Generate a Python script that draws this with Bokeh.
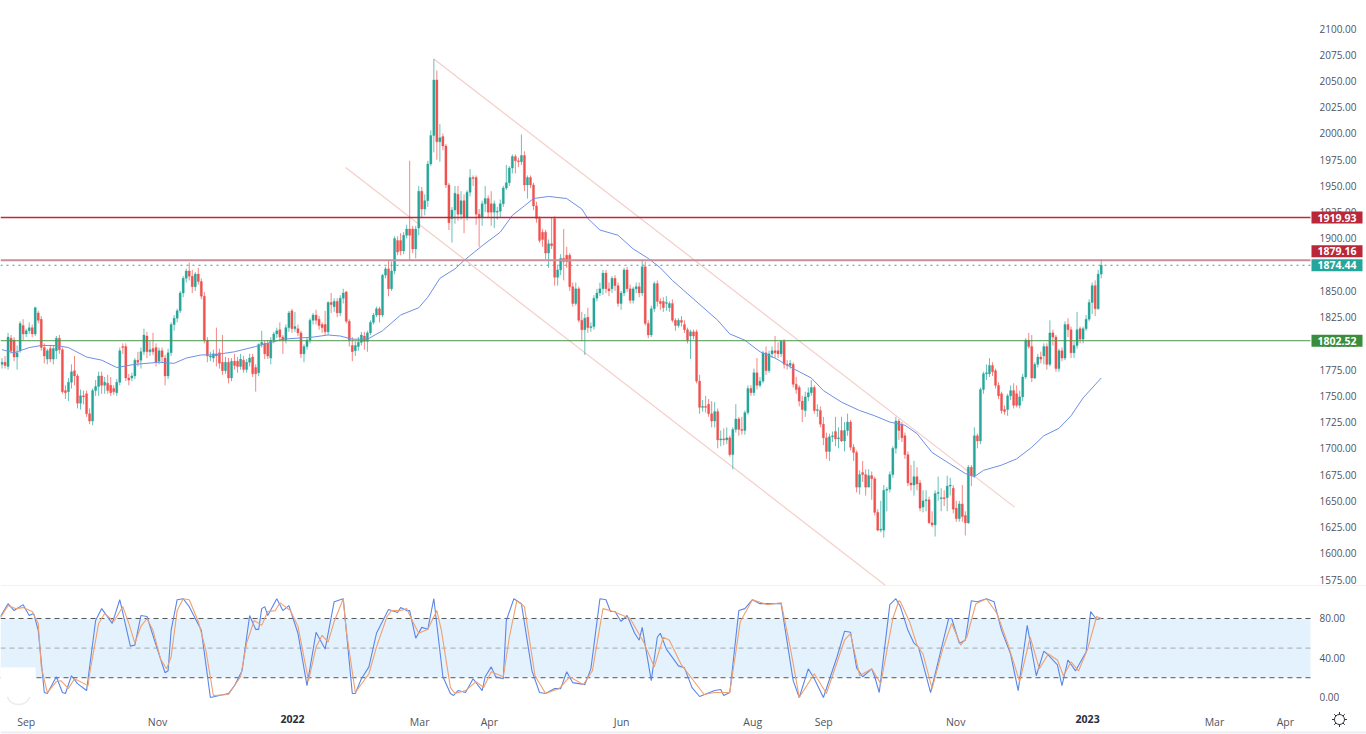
from bokeh.embed import file_html
from bokeh.layouts import column
from bokeh.models import BoxAnnotation, ColumnDataSource, FixedTicker, Label, NumeralTickFormatter, Range1d
from bokeh.plotting import figure
from bokeh.resources import INLINE

# daily candles, ten bars a row
bar_open = [
    1780,1782,1778,1805,1803,1787,1793,1817,1809,1812,
    1815,1809,1829,1823,1796,1785,1795,1785,1793,1805,
    1794,1755,1754,1763,1774,1769,1743,1750,1752,1733,
    1726,1755,1759,1769,1760,1762,1760,1757,1753,1763,
    1797,1797,1767,1767,1769,1784,1784,1792,1807,1792,
    1795,1796,1783,1793,1786,1769,1791,1818,1824,1831,
    1848,1862,1869,1864,1854,1866,1859,1845,1803,1787,
    1786,1790,1791,1782,1774,1782,1767,1783,1783,1778,
    1784,1775,1782,1787,1777,1772,1799,1800,1800,1786,
    1803,1809,1813,1806,1803,1815,1831,1814,1814,1810,
    1790,1797,1803,1822,1827,1823,1818,1818,1811,1839,
    1835,1840,1829,1843,1849,1821,1798,1793,1797,1801,
    1807,1802,1810,1820,1827,1833,1827,1865,1871,1852,
    1869,1898,1898,1888,1903,1909,1909,1890,1910,1945,
    1928,1936,1971,1998,2051,1992,1997,1988,1951,1919,
    1927,1942,1923,1936,1920,1944,1958,1958,1923,1920,
    1933,1938,1933,1925,1925,1926,1933,1948,1953,1967,
    1978,1974,1973,1979,1951,1958,1951,1931,1919,1906,
    1906,1886,1895,1919,1863,1870,1881,1884,1884,1854,
    1838,1852,1822,1813,1825,1815,1816,1843,1848,1852,
    1867,1852,1852,1862,1855,1838,1848,1870,1852,1841,
    1852,1854,1848,1873,1819,1808,1833,1857,1840,1840,
    1838,1834,1838,1822,1817,1822,1818,1813,1807,1811,
    1811,1764,1739,1740,1742,1733,1726,1735,1708,1709,
    1708,1710,1694,1718,1728,1718,1717,1734,1757,1753,
    1772,1760,1764,1791,1774,1790,1793,1793,1790,1802,
    1780,1779,1780,1761,1758,1745,1736,1749,1753,1758,
    1736,1736,1723,1710,1697,1711,1716,1709,1717,1707,
    1717,1725,1701,1696,1663,1677,1675,1663,1674,1671,
    1639,1622,1622,1660,1661,1675,1700,1726,1723,1712,
    1694,1667,1665,1673,1667,1644,1650,1651,1629,1627,
    1657,1652,1653,1653,1664,1662,1643,1633,1647,1636,
    1629,1682,1674,1712,1707,1756,1771,1771,1779,1774,
    1760,1752,1737,1737,1750,1755,1752,1741,1749,1768,
    1803,1797,1767,1780,1787,1788,1797,1780,1810,1806,
    1776,1793,1786,1818,1813,1791,1798,1814,1804,1814,
    1823,1839,1855,1833,1866,
]
bar_close = [
    1782,1779,1806,1793,1787,1791,1819,1809,1812,1815,
    1809,1834,1822,1796,1788,1793,1785,1795,1805,1794,
    1754,1753,1763,1773,1769,1743,1750,1749,1733,1726,
    1755,1759,1769,1760,1763,1755,1753,1754,1763,1793,
    1796,1767,1765,1769,1784,1782,1792,1808,1792,1794,
    1792,1782,1793,1787,1769,1791,1818,1824,1831,1848,
    1862,1869,1864,1854,1866,1859,1845,1803,1788,1788,
    1790,1788,1781,1774,1782,1767,1783,1779,1778,1785,
    1775,1782,1786,1771,1771,1799,1801,1790,1788,1803,
    1809,1812,1806,1803,1815,1829,1814,1816,1810,1790,
    1797,1803,1822,1827,1822,1817,1815,1811,1839,1837,
    1840,1829,1843,1848,1821,1803,1792,1798,1801,1808,
    1802,1810,1820,1827,1833,1827,1865,1871,1852,1869,
    1900,1887,1888,1903,1909,1903,1890,1909,1945,1928,
    1936,1971,1998,2051,1992,1996,1988,1951,1915,1927,
    1943,1923,1936,1920,1944,1958,1957,1923,1920,1933,
    1938,1925,1925,1933,1926,1933,1948,1953,1967,1978,
    1974,1973,1979,1951,1958,1951,1931,1919,1898,1899,
    1886,1895,1893,1863,1870,1881,1878,1878,1854,1838,
    1852,1822,1813,1824,1815,1816,1843,1848,1852,1867,
    1852,1850,1862,1855,1838,1848,1870,1852,1841,1852,
    1854,1848,1873,1819,1808,1833,1857,1840,1838,1834,
    1839,1838,1822,1817,1822,1820,1813,1803,1811,1807,
    1764,1739,1740,1739,1733,1726,1735,1708,1709,1708,
    1710,1694,1718,1728,1718,1717,1734,1757,1753,1772,
    1760,1764,1791,1774,1790,1793,1791,1790,1802,1780,
    1779,1781,1761,1756,1745,1737,1749,1753,1758,1736,
    1737,1723,1710,1697,1711,1712,1709,1710,1707,1717,
    1725,1701,1696,1663,1675,1675,1663,1674,1671,1639,
    1622,1623,1660,1661,1675,1700,1726,1717,1710,1694,
    1667,1665,1673,1666,1643,1650,1651,1629,1627,1657,
    1658,1653,1652,1664,1665,1642,1633,1647,1635,1629,
    1682,1674,1712,1707,1756,1771,1772,1779,1773,1760,
    1750,1736,1735,1750,1755,1741,1741,1749,1768,1803,
    1797,1767,1780,1787,1785,1797,1780,1810,1806,1776,
    1793,1786,1818,1813,1791,1798,1813,1804,1814,1823,
    1839,1855,1833,1866,1874.44,
]
bar_high = [
    1786,1788,1810,1808,1806,1798,1821,1823,1814,1820,
    1818,1835,1831,1826,1800,1795,1798,1798,1807,1808,
    1796,1760,1767,1780,1788,1771,1756,1755,1755,1738,
    1757,1765,1773,1773,1768,1770,1768,1760,1766,1796,
    1800,1800,1771,1772,1786,1792,1796,1814,1811,1802,
    1810,1800,1796,1796,1789,1795,1820,1827,1833,1850,
    1864,1871,1877,1870,1868,1872,1862,1849,1806,1792,
    1794,1815,1795,1808,1787,1786,1786,1790,1787,1790,
    1788,1785,1790,1790,1780,1800,1812,1803,1803,1806,
    1811,1815,1820,1808,1818,1831,1833,1830,1818,1812,
    1799,1806,1824,1829,1832,1826,1820,1831,1840,1848,
    1843,1843,1846,1852,1850,1823,1806,1802,1806,1811,
    1811,1812,1822,1829,1835,1835,1866,1873,1879,1878,
    1902,1902,1905,1906,1913,1974,1912,1912,1950,1949,
    1942,1974,2003,2071,2060,2009,2000,1990,1953,1930,
    1950,1950,1945,1942,1946,1966,1960,1960,1928,1936,
    1950,1941,1945,1936,1930,1937,1950,1970,1969,1980,
    1980,1977,1999,1983,1960,1960,1953,1935,1921,1909,
    1908,1899,1920,1921,1875,1885,1909,1892,1886,1858,
    1858,1854,1830,1828,1834,1820,1846,1852,1858,1870,
    1870,1858,1864,1865,1858,1850,1872,1873,1856,1854,
    1858,1858,1879,1878,1822,1836,1859,1860,1843,1844,
    1845,1840,1842,1824,1824,1826,1822,1815,1813,1813,
    1813,1770,1746,1750,1747,1745,1744,1738,1717,1719,
    1720,1712,1720,1742,1730,1730,1736,1760,1760,1776,
    1786,1768,1793,1797,1793,1797,1807,1801,1803,1804,
    1784,1784,1782,1768,1760,1750,1754,1758,1765,1760,
    1742,1740,1730,1715,1714,1716,1730,1720,1730,1725,
    1733,1727,1704,1698,1679,1688,1680,1680,1678,1673,
    1642,1650,1665,1663,1678,1702,1730,1728,1725,1715,
    1697,1684,1688,1682,1670,1660,1660,1654,1640,1660,
    1673,1662,1660,1674,1672,1665,1650,1650,1665,1640,
    1684,1684,1720,1714,1758,1773,1780,1786,1782,1776,
    1763,1754,1741,1752,1760,1762,1760,1755,1771,1805,
    1810,1808,1782,1790,1792,1800,1800,1822,1813,1808,
    1795,1796,1821,1824,1816,1802,1830,1816,1816,1827,
    1842,1858,1860,1870,1880,
]
bar_low = [
    1776,1776,1775,1790,1783,1775,1791,1803,1806,1809,
    1806,1807,1819,1793,1781,1780,1782,1780,1785,1790,
    1752,1747,1745,1757,1760,1738,1737,1742,1730,1723,
    1722,1750,1750,1752,1752,1752,1750,1751,1750,1760,
    1790,1764,1760,1764,1766,1778,1776,1789,1786,1788,
    1789,1778,1780,1782,1760,1766,1788,1812,1820,1829,
    1844,1858,1860,1848,1850,1856,1842,1800,1782,1783,
    1782,1778,1776,1770,1771,1762,1764,1775,1772,1775,
    1772,1772,1778,1768,1754,1769,1796,1785,1785,1780,
    1800,1805,1802,1790,1800,1811,1810,1811,1807,1786,
    1782,1794,1800,1818,1818,1813,1810,1808,1808,1829,
    1830,1825,1826,1838,1819,1797,1783,1788,1793,1798,
    1794,1792,1808,1818,1825,1820,1825,1862,1845,1850,
    1866,1884,1884,1885,1900,1879,1886,1881,1903,1920,
    1922,1930,1969,1982,1975,1973,1984,1948,1908,1896,
    1914,1917,1918,1905,1917,1940,1950,1913,1892,1912,
    1925,1920,1912,1910,1918,1920,1930,1946,1950,1962,
    1962,1968,1970,1945,1938,1948,1927,1915,1896,1892,
    1880,1872,1890,1855,1855,1865,1860,1872,1850,1835,
    1836,1820,1802,1789,1810,1811,1813,1840,1845,1846,
    1848,1845,1848,1850,1835,1832,1845,1849,1838,1838,
    1848,1844,1845,1817,1805,1806,1830,1835,1832,1830,
    1831,1830,1820,1812,1815,1816,1810,1800,1785,1804,
    1762,1733,1735,1734,1730,1720,1720,1700,1702,1703,
    1704,1692,1680,1715,1712,1713,1713,1732,1750,1750,
    1756,1758,1762,1770,1772,1786,1786,1786,1787,1776,
    1775,1776,1758,1752,1740,1725,1730,1745,1750,1733,
    1730,1720,1703,1690,1688,1706,1702,1700,1706,1697,
    1712,1698,1688,1658,1656,1668,1655,1670,1651,1636,
    1621,1620,1615,1640,1658,1672,1695,1708,1706,1690,
    1664,1660,1655,1660,1640,1639,1640,1628,1625,1616,
    1650,1640,1645,1640,1655,1638,1630,1630,1630,1617,
    1628,1664,1672,1700,1704,1752,1765,1768,1769,1757,
    1747,1733,1732,1731,1746,1738,1739,1738,1745,1766,
    1795,1763,1766,1777,1781,1780,1775,1778,1798,1773,
    1773,1783,1784,1806,1786,1786,1795,1800,1800,1812,
    1821,1828,1826,1832,1862,
]

# moving average, bars counted back from the last candle
ma_bar = [
    -364,-360,-355,-351,-346,-342,-336,-331,-326,-320,
    -312,-307,-303,-298,-294,-287,-280,-271,-261,-256,
    -252,-248,-243,-238,-232,-226,-223,-219,-214,-211,
    -205,-199,-195,-191,-188,-183,-177,-172,-170,-166,
    -160,-155,-150,-146,-142,-127,-123,-118,-113,-108,
    -102,-96,-92,-86,-80,-75,-70,-65,-61,-56,
    -50,-45,-42,-39,-33,-28,-23,-19,-14,-10,-6,0,
]
ma_price = [
    1794,1791,1796,1798,1798,1796,1787,1784,1777,1780,
    1782,1781,1786,1789,1789,1792,1797,1804,1806,1808,
    1807,1804,1804,1812,1827,1834,1844,1862,1871,1879,
    1893,1906,1922,1931,1938,1940,1938,1928,1919,1908,
    1903,1890,1881,1872,1860,1822,1809,1803,1792,1786,
    1776,1767,1755,1744,1736,1731,1725,1722,1714,1696,
    1685,1676,1673,1679,1684,1690,1701,1712,1719,1731,1748,1767,
]

# stochastic lines
k_bar = [
    -364.5,-362,-360,-357,-355,-353.5,-352,-350,-349,-346,-344,-343,-341,-339,-336,-333,-331,-327.5,-325,-321.5,
    -320,-318,-316,-313,-310,-309,-308,-306,-304,-302,-298,-295,-289,-287,-284.5,-282,-280,-279,-278,-277,
    -276,-273,-271,-269,-266,-263,-260,-257,-254,-251,-248,-247,-245,-242.5,-240,-236,-233,-232,-230,-229,
    -227,-225,-223,-221,-218,-215.5,-214.5,-213,-210.5,-208,-205,-204,-202,-200.5,-198,-197,-194.5,-192,-188.5,-186,
    -184,-181,-179,-177,-175,-171,-169,-166,-164,-162.5,-161,-159,-157,-154.5,-153,-152,-149,-147,-146,-144,
    -140,-138,-135.5,-133,-128,-126,-125,-123,-120,-118,-115.5,-113,-108.5,-106,-102,-100,-97,-95,-92,-87.5,
    -85,-83,-81,-79,-76,-75,-73.5,-70,-68,-66.5,-64,-62,-60.5,-56.5,-50.5,-49.5,-47,-45,-43,-41,
    -38,-35.5,-33,-30,-27.5,-24.5,-21.5,-19,-17.5,-14.5,-13,-11,-8.5,-5,-3.5,-1.5,0,
]
k_value = [
    82,95,88,94,83,85,68,5,4,21,5,4,22,14,7,78,90,75,99,52,
    53,83,82,53,25,27,68,99,100,92,68,0,4,12,27,83,69,69,90,92,
    83,100,88,93,65,12,66,49,97,100,4,4,19,31,65,89,86,91,88,88,
    60,71,69,100,21,4,2,7,5,19,7,21,31,21,19,78,100,95,27,5,
    4,9,9,26,15,13,29,100,99,87,87,77,83,65,58,71,17,61,65,49,
    32,30,10,1,7,8,2,5,88,90,99,95,95,95,17,0,29,19,0,41,
    67,66,30,21,29,21,5,94,100,92,68,55,51,5,80,80,55,58,98,97,
    100,97,68,44,7,73,22,47,43,33,12,38,27,46,87,79,80,
]
d_bar = [
    -364.5,-362,-359.5,-357,-354,-352,-351,-349,-346,-344.5,-342,-340,-335.5,-335,-332,-330,-327,-324,-322,-320,
    -318,-316,-314,-311.5,-309.5,-308,-306,-304,-302,-299,-296.5,-294,-289,-285,-283,-280.5,-278,-276,-273.5,-272,
    -268.5,-266,-262.5,-260,-258,-256,-254,-251,-250,-247,-242.5,-240,-236.5,-235,-232,-230,-228,-226,-223,-220,
    -218.5,-215.5,-214,-210.5,-207,-204.5,-202,-198,-196,-193.5,-191,-187.5,-184,-179.5,-176,-171.5,-168.5,-165,-161.5,-156,
    -151.5,-148,-145,-143,-139,-136,-131.5,-128,-123,-119.5,-115.5,-110.5,-106,-103,-100,-95,-91,-85,-83,-80,
    -76,-73,-69,-67,-66.5,-63.5,-61,-59,-56,-52.5,-49.5,-46.5,-44.5,-41.5,-38,-34.5,-31,-27,-23.5,-20.5,
    -17.5,-14.5,-12.5,-10,-7.5,-4.5,-1.5,0,
]
d_value = [
    81,93,90,91,87,75,31,5,16,17,9,19,12,24,75,85,77,92,75,55,
    72,80,68,39,29,41,88,100,99,77,48,2,3,21,55,78,73,87,88,96,
    88,72,17,51,63,56,77,100,68,5,24,51,82,88,88,90,77,65,69,88,
    68,10,4,7,16,10,26,21,61,98,92,22,4,9,21,13,27,90,87,80,
    56,31,61,58,33,21,3,5,5,77,99,94,96,51,0,24,4,58,65,22,
    29,14,80,98,97,77,53,44,9,49,75,53,61,95,100,85,55,16,61,29,
    44,38,22,36,27,49,82,80,
]

# support, resistance and last price levels
level_prices = [1919.93, 1879.16, 1874.44, 1802.52]
price_ticks = [2100, 2075, 2050, 2025, 2000, 1975, 1950, 1925, 1900, 1875, 1850, 1825, 1800,
               1775, 1750, 1725, 1700, 1675, 1650, 1625, 1600, 1575]
stoch_ticks = [0, 40, 80]
stoch_bands = [80, 50, 20]

upper_channel_bar = [-221, -28.7]
upper_channel_price = [2071, 1644]
lower_channel_bar = [-250.2, -71.4]
lower_channel_price = [1967.6, 1569.3]

month_labels = ["Sep", "Nov", "Mar", "Apr", "Jun", "Aug", "Sep", "Nov", "Mar", "Apr"]
month_bars = [-356, -312.5, -225.7, -202.6, -158.8, -115.4, -91.9, -48.2, 37.5, 61]
year_labels = ["2022", "2023"]
year_bars = [-267.8, -4.5]

UP = "#26a69a"
DOWN = "#ef5350"
FONT = "Open Sans"
TEXT = "#50535e"
LEFT_EDGE = -364.5   # first pixel column
SCALE_EDGE = 69.3    # where the panes stop and the price scale starts
RIGHT_EDGE = 87.85   # end of the window

bars = list(range(1 - len(bar_close), 1))
colors = [UP if c >= o else DOWN for o, c in zip(bar_open, bar_close)]
source = ColumnDataSource(data=dict(x=bars, o=bar_open, c=bar_close, h=bar_high, l=bar_low, color=colors))
x_range = Range1d(LEFT_EDGE, RIGHT_EDGE)


def style_price_axis(fig, ticks):
    # negative standoff pulls the labels back over the frame, so badges can sit on top of them
    fig.yaxis.ticker = FixedTicker(ticks=ticks)
    fig.yaxis.formatter = NumeralTickFormatter(format="0.00")
    fig.yaxis.axis_line_color = None
    fig.yaxis.major_tick_line_color = None
    fig.yaxis.minor_tick_line_color = None
    fig.yaxis.major_label_standoff = -53
    fig.yaxis.major_label_text_font = FONT
    fig.yaxis.major_label_text_font_size = "10px"
    fig.yaxis.major_label_text_color = TEXT


# PRICE PANE
p = figure(width=1366, height=585, x_range=x_range, y_range=Range1d(1569.3, 2126.7),
           y_axis_location="right", output_backend="svg", toolbar_location=None,
           min_border_left=0, min_border_right=0, min_border_top=0, min_border_bottom=0)
p.outline_line_color = None
p.grid.visible = False
p.xaxis.visible = False
style_price_axis(p, price_ticks)

p.line(upper_channel_bar, upper_channel_price, color="#f5cdc8", line_width=1.2)
p.line(lower_channel_bar, lower_channel_price, color="#f5cdc8", line_width=1.2)
p.segment("x", "h", "x", "l", source=source, color="color", line_width=1, line_alpha=0.7)
p.vbar(x="x", top="o", bottom="c", width=0.72, source=source, fill_color="color", line_color="color", line_width=0.3)
p.line(ma_bar, ma_price, color="#6f8fe6", line_width=1)

level_colors = ["#c2263a", "#c98e99", UP, "#4b9650"]
p.segment(x0=[LEFT_EDGE, LEFT_EDGE], x1=[SCALE_EDGE, SCALE_EDGE],
          y0=[level_prices[1], level_prices[3]], y1=[level_prices[1], level_prices[3]],
          line_color=[level_colors[1], level_colors[3]], line_width=[2, 1])
p.line([LEFT_EDGE, SCALE_EDGE], [level_prices[2], level_prices[2]], color=level_colors[2], line_width=1, line_dash="dotted")
# a 1px stroke loses its red on this row, a slightly taller filled bar keeps it
p.quad(left=[LEFT_EDGE], right=[SCALE_EDGE], bottom=[level_prices[0] - 0.7], top=[level_prices[0] + 0.7],
       fill_color=level_colors[0], line_color=None)

# the 1879.16 badge is pushed up so it does not sit under the last price
badge_colors = ["#b92739", "#b92739", UP, "#388e3c"]
badge_shifts = [0, 9, 0, 0]
for level, color, shift in zip(level_prices, badge_colors, badge_shifts):
    p.add_layout(Label(x=1336.5, x_units="screen", y=level, y_offset=shift, text=f"{level:.2f}", text_align="center",
                       text_baseline="middle", text_color="white", text_font=FONT, text_font_size="10.5px",
                       text_font_style="bold", background_fill_color=color, padding=(6, 2)))

# STOCHASTIC PANE
s = figure(width=1366, height=149, x_range=x_range, y_range=Range1d(-37.5, 113.4),
           y_axis_location="right", output_backend="svg", toolbar_location=None,
           min_border_left=0, min_border_right=0, min_border_top=0, min_border_bottom=0)
s.outline_line_color = None
s.grid.visible = False
style_price_axis(s, stoch_ticks)
s.xaxis.ticker = FixedTicker(ticks=month_bars)
s.xaxis.major_label_overrides = dict(zip(month_bars, month_labels))
s.xaxis.axis_line_color = None
s.xaxis.major_tick_line_color = None
s.xaxis.minor_tick_line_color = None
s.xaxis.major_label_standoff = -26
s.xaxis.major_label_text_font = FONT
s.xaxis.major_label_text_font_size = "10.5px"
s.xaxis.major_label_text_color = TEXT

s.add_layout(BoxAnnotation(left=LEFT_EDGE, right=SCALE_EDGE, top=80, bottom=20, fill_color="#2196f3", fill_alpha=0.12,
                           line_alpha=0, level="underlay"))
for value, color in zip(stoch_bands, ["#555555", "#a5a8b0", "#555555"]):
    s.line([LEFT_EDGE, SCALE_EDGE], [value, value], color=color, line_width=1, line_dash=[5, 4])
# the logo in the corner washes out the band
s.add_layout(BoxAnnotation(left=LEFT_EDGE, right=-352.9, top=30.4, bottom=-11.1, fill_color="white", fill_alpha=1,
                           line_alpha=0, level="annotation"))
s.arc(x=[-358.5], y=[5], radius=12, radius_units="screen", start_angle=3.5, end_angle=5.9,
      line_color="#ececec", line_width=1.5, level="overlay")

s.line(k_bar, k_value, color="#5b86e8", line_width=1.1)
s.line(d_bar, d_value, color="#f0a070", line_width=1.1)

for bar, year in zip(year_bars, year_labels):
    s.add_layout(Label(x=bar, y=-21.8, text=year, text_align="center", text_baseline="middle",
                       text_color="#2a2e39", text_font=FONT, text_font_size="10.5px", text_font_style="bold"))

# settings button in the corner
s.scatter([78.9], [-22.3], marker="asterisk", size=15, line_color="#2a2e39", line_width=1)
s.scatter([78.9], [-22.3], marker="circle", size=10, fill_color="white", line_color="#2a2e39", line_width=1)

# hairlines above and below the pane, they run under the price scale too
s.hspan(y=[113], line_color="#e0e3eb", line_width=1)
s.hspan(y=[-35.6], line_color="#eceef2", line_width=2)

page = column(p, s, spacing=0)
open("out.html", "w").write(file_html(page, INLINE))
